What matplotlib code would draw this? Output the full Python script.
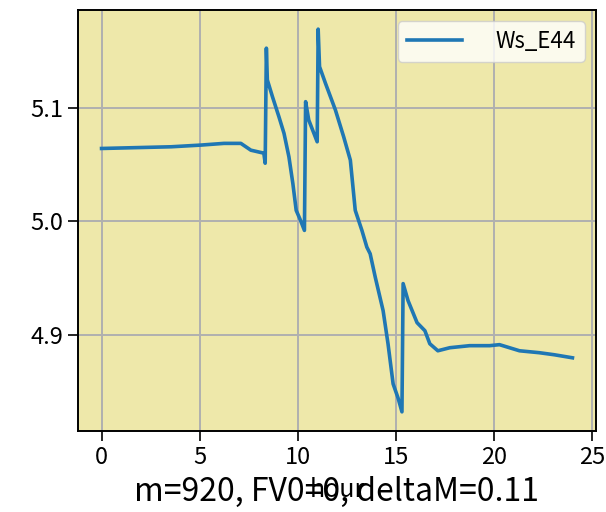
import matplotlib
matplotlib.use("Agg")
import matplotlib.pyplot as plt

plt.rcParams['font.family'] = ['Noto Sans CJK SC', 'DejaVu Sans']

hours = [0.00, 3.55, 5.07, 6.24, 7.10, 7.61, 8.11, 8.27, 8.34, 8.40, 8.45, 8.71,
         9.04, 9.30, 9.55, 9.75, 9.92, 10.14, 10.34, 10.40, 10.56, 10.99,
         11.04, 11.11, 11.41, 11.92, 12.34, 12.68, 12.93, 13.27, 13.52, 13.69,
         13.95, 14.35, 14.60, 14.86, 15.11, 15.31, 15.37, 15.62, 16.08, 16.48,
         16.73, 17.14, 17.75, 18.76, 19.78, 20.28, 21.30, 22.31, 23.07, 24.00]
ws_e44 = [5.0643, 5.0658, 5.0673, 5.0688, 5.0688, 5.0628, 5.0608, 5.0602, 5.0513,
          5.1528, 5.1248, 5.1100, 5.0923, 5.0776, 5.0569, 5.0334, 5.0097, 5.0009,
          4.9920, 5.1056, 5.0894, 5.0702, 5.1696, 5.1365, 5.1219, 5.0982, 5.0746,
          5.0540, 5.0097, 4.9920, 4.9773, 4.9714, 4.9507, 4.9212, 4.8920, 4.8566,
          4.8442, 4.8319, 4.9451, 4.9301, 4.9106, 4.9035, 4.8920, 4.8858, 4.8885,
          4.8903, 4.8903, 4.8912, 4.8858, 4.8841, 4.8823, 4.8796]
series_label = "Ws_E44"
x_label = "hour"
note = "m=920, FV0=0, deltaM=0.11"

fig = plt.figure(figsize=(6.06, 5.12), dpi=100)
ax = fig.add_axes([78/606, 1-431/512, (596-78)/606, (431-10)/512])
ax.set_facecolor('#eee8aa')
ax.plot(hours, ws_e44, color='#1f77b4', lw=2.6, label=series_label)
ax.grid(True, color='#b0b0b0', lw=1.4)
ax.set_axisbelow(True)
ax.set_xticks([0, 5, 10, 15, 20, 25])
ax.set_yticks([4.9, 5.0, 5.1])
ax.tick_params(labelsize=17, length=7, width=1.2)
for s in ax.spines.values():
    s.set_linewidth(1.4)
ax.set_xlabel(x_label, fontsize=18, labelpad=6)
ax.legend(loc='upper right', fontsize=16, handlelength=2.5, handletextpad=1.5)
fig.text(337/606, 1-501/512, note, fontsize=23, ha='center', va='baseline')
fig.savefig('out.png', dpi=100)
